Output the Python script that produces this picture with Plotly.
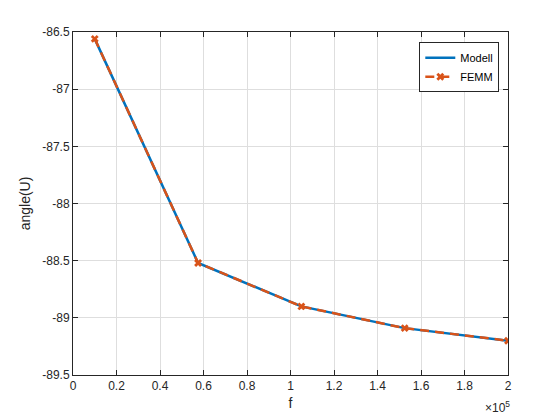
import plotly.graph_objects as go

# Data
freq = [1.0e4, 5.75e4, 1.05e5, 1.525e5, 2.0e5]
angle_modell = [-86.56, -88.52, -88.90, -89.09, -89.20]
angle_femm = [-86.56, -88.52, -88.90, -89.09, -89.20]

x_tickvals = [0, 2e4, 4e4, 6e4, 8e4, 1e5, 1.2e5, 1.4e5, 1.6e5, 1.8e5, 2e5]
x_ticktext = ["0", "0.2", "0.4", "0.6", "0.8", "1", "1.2", "1.4", "1.6", "1.8", "2"]
y_tickvals = [-89.5, -89, -88.5, -88, -87.5, -87, -86.5]
y_ticktext = ["-89.5", "-89", "-88.5", "-88", "-87.5", "-87", "-86.5"]

BLUE = "#0072BD"
ORANGE = "#D95319"
AXC = "#262626"
FONT = "Liberation Sans, Arial"

fig = go.Figure()
fig.add_trace(go.Scatter(x=freq, y=angle_modell, mode="lines", name="Modell",
                         line=dict(color=BLUE, width=2.5)))
fig.add_trace(go.Scatter(x=freq, y=angle_femm, mode="lines+markers", name="FEMM",
                         line=dict(color=ORANGE, width=2.5, dash="9px,6px"),
                         marker=dict(symbol="x", size=7, color=ORANGE)))

axis_common = dict(showline=True, linecolor=AXC, linewidth=1, mirror="allticks",
                   ticks="inside", ticklen=5, tickcolor=AXC, showgrid=True,
                   gridcolor="#dedede", gridwidth=1, zeroline=False,
                   tickfont=dict(family=FONT, size=12, color=AXC))

fig.update_xaxes(range=[0, 2e5], tickvals=x_tickvals, ticktext=x_ticktext,
                 title=dict(text="f", font=dict(family=FONT, size=14, color=AXC), standoff=5),
                 **axis_common)
fig.update_yaxes(range=[-89.5, -86.5], tickvals=y_tickvals, ticktext=y_ticktext,
                 title=dict(text="angle(U)", font=dict(family=FONT, size=14, color=AXC), standoff=8),
                 **axis_common)

fig.add_annotation(text="×10<sup>5</sup>", xref="paper", yref="paper", x=1.0, y=0,
                   xanchor="right", yanchor="top", yshift=-22, xshift=4, showarrow=False,
                   font=dict(family=FONT, size=12, color=AXC))

fig.update_layout(
    width=552, height=412,
    margin=dict(l=65, r=52, t=24, b=45),
    paper_bgcolor="white", plot_bgcolor="white",
    showlegend=True,
    legend=dict(x=0.98, y=0.97, xanchor="right", yanchor="top",
                bgcolor="white", bordercolor=AXC, borderwidth=1,
                font=dict(family=FONT, size=11, color="black"),
                tracegroupgap=0, itemwidth=30),
)

fig.write_html("out.html")
